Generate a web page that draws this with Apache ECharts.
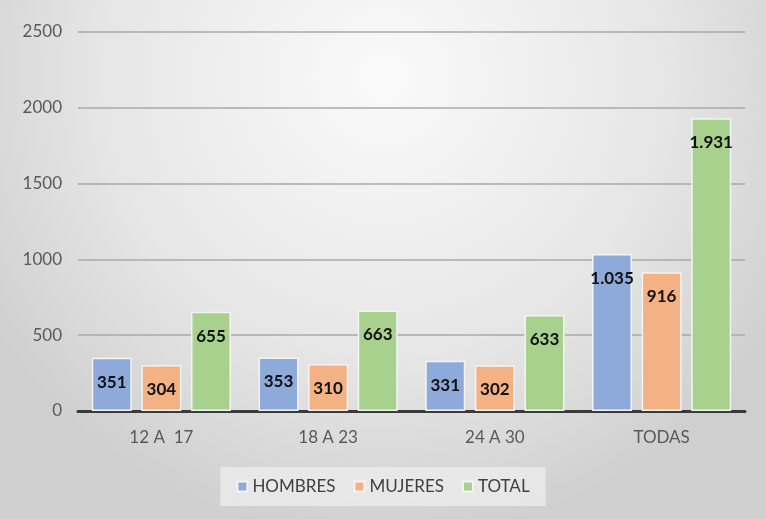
<!DOCTYPE html>
<html><head><meta charset="utf-8">
<script src="https://cdn.jsdelivr.net/npm/echarts@6/dist/echarts.min.js"></script>
<style>html,body{margin:0;padding:0;}#c{width:766px;height:519px;}</style>
</head><body><div id="c"></div>
<script>
const categories = ['12 A  17', '18 A 23', '24 A 30', 'TODAS'];
const hombres = [351, 353, 331, 1035];
const mujeres = [304, 310, 302, 916];
const total = [655, 663, 633, 1931];
const seriesNames = ['HOMBRES', 'MUJERES', 'TOTAL'];
const colors = ['#8eaadb', '#f4b183', '#a9d18e'];

const fmt = v => {
  const s = String(v.value);
  return s.length > 3 ? s.slice(0, s.length - 3) + '.' + s.slice(-3) : s;
};
const mk = (name, data, color) => ({
  name, type: 'bar', data, barWidth: 40, barGap: '24%',
  itemStyle: { color, borderColor: '#f4f4f4', borderWidth: 1.5 },
  label: { show: true, position: 'insideTop', distance: 16, formatter: fmt,
    fontFamily: 'Lato', fontWeight: 'bold', fontSize: 17, color: '#111' }
});
const chart = echarts.init(document.getElementById('c'));
chart.setOption({
  animation: false,
  backgroundColor: { type: 'radial', x: 0.5, y: 0.15, r: 0.9,
    colorStops: [{ offset: 0, color: '#fafafa' }, { offset: 0.6, color: '#e6e6e6' }, { offset: 1, color: '#cfcfcf' }] },
  textStyle: { fontFamily: 'Lato' },
  grid: { left: 78, right: 21, top: 32, bottom: 108 },
  legend: { bottom: 13, left: 'center', itemWidth: 10, itemHeight: 10, itemGap: 18,
    padding: [11, 16], backgroundColor: 'rgba(240,240,240,0.7)',
    data: seriesNames.map(n => ({ name: n, icon: 'rect' })),
    textStyle: { fontSize: 17, color: '#404040', fontFamily: 'Lato' } },
  xAxis: { type: 'category', data: categories,
    axisLine: { lineStyle: { color: '#3a3a3a', width: 3 } }, axisTick: { show: false },
    axisLabel: { fontSize: 17, color: '#595959', margin: 18 } },
  yAxis: { type: 'value', min: 0, max: 2500, interval: 500,
    axisLine: { show: false }, axisTick: { show: false },
    splitLine: { lineStyle: { color: '#a8a8a8', width: 1.5 } },
    axisLabel: { fontSize: 17, color: '#595959', margin: 16, formatter: v => String(v) } },
  series: [mk(seriesNames[0], hombres, colors[0]), mk(seriesNames[1], mujeres, colors[1]), mk(seriesNames[2], total, colors[2])]
});
</script></body></html>
